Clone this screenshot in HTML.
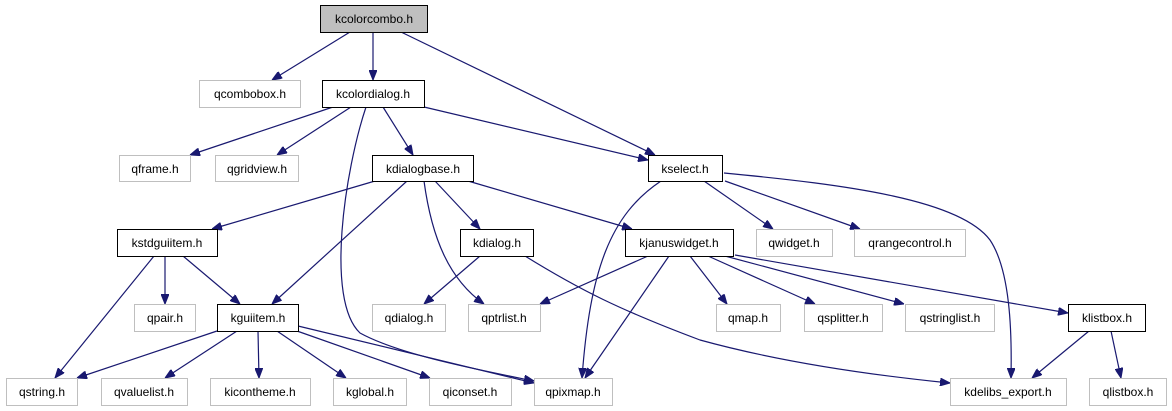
<!DOCTYPE html>
<html><head><meta charset="utf-8"><style>
html,body{margin:0;padding:0;background:#fff;}
svg{display:block;}
text{font-family:"Liberation Sans",Arial,sans-serif;font-size:12px;fill:#000;text-anchor:middle;}
.e path{fill:none;stroke:#191970;stroke-width:1.2;}
</style></head><body>
<svg width="1172" height="411" viewBox="0 0 1172 411" xmlns="http://www.w3.org/2000/svg">
<defs><marker id="a" viewBox="0 0 10 8" refX="10" refY="4" markerWidth="10" markerHeight="8" markerUnits="userSpaceOnUse" orient="auto"><path d="M0,0L10,4L0,8z" fill="#191970" stroke="#191970"/></marker></defs>
<g class="e" marker-end="url(#a)">
<path d="M350,32L272,80"/>
<path d="M373,32L373,80"/>
<path d="M401,32L655,155"/>
<path d="M333,107L190,155"/>
<path d="M351,107L277,155"/>
<path d="M383,107L413,155"/>
<path d="M424,107L648,160"/>
<path d="M366,107C345,170 325,300 360,333C400,355 480,370 534,381"/>
<path d="M375,181L212,229"/>
<path d="M407,181L272,304"/>
<path d="M424,181C432,240 450,280 484,304"/>
<path d="M435,181L480,229"/>
<path d="M468,181L632,229"/>
<path d="M704,181L773,229"/>
<path d="M725,181L860,229"/>
<path d="M661,181C610,215 590,270 582,378"/>
<path d="M724,173C850,185 960,200 990,240C1010,270 1012,330 1011,378"/>
<path d="M648,256L540,304"/>
<path d="M669,256L585,378"/>
<path d="M690,256L727,304"/>
<path d="M708,256L815,304"/>
<path d="M725,256L904,304"/>
<path d="M735,255L1068,313"/>
<path d="M1089,331L1032,378"/>
<path d="M1111,331L1121,378"/>
<path d="M525,256C580,290 620,310 700,340C780,362 870,375 950,383"/>
<path d="M480,256L424,304"/>
<path d="M154,256L55,378"/>
<path d="M165,256L165,304"/>
<path d="M183,256L240,304"/>
<path d="M217,331L77,378"/>
<path d="M237,331L165,378"/>
<path d="M258,331L259,378"/>
<path d="M277,331L346,378"/>
<path d="M297,331L430,378"/>
<path d="M298,326L534,383"/>
</g>
<g>
<rect x="320.5" y="5.5" width="107" height="27" fill="#bfbfbf" stroke="#000"/><text x="374" y="23">kcolorcombo.h</text>
<rect x="199.5" y="80.5" width="101" height="27" fill="#fff" stroke="#bfbfbf"/><text x="250" y="98">qcombobox.h</text>
<rect x="322.5" y="80.5" width="102" height="27" fill="#fff" stroke="#000"/><text x="373" y="98">kcolordialog.h</text>
<rect x="119.5" y="155.5" width="71" height="26" fill="#fff" stroke="#bfbfbf"/><text x="155" y="173">qframe.h</text>
<rect x="215.5" y="155.5" width="83" height="26" fill="#fff" stroke="#bfbfbf"/><text x="257" y="173">qgridview.h</text>
<rect x="372.5" y="155.5" width="101" height="26" fill="#fff" stroke="#000"/><text x="423" y="173">kdialogbase.h</text>
<rect x="648.5" y="155.5" width="74" height="26" fill="#fff" stroke="#000"/><text x="685" y="173">kselect.h</text>
<rect x="117.5" y="229.5" width="100" height="27" fill="#fff" stroke="#000"/><text x="167" y="247">kstdguiitem.h</text>
<rect x="460.5" y="229.5" width="73" height="27" fill="#fff" stroke="#000"/><text x="497" y="247">kdialog.h</text>
<rect x="625.5" y="229.5" width="108" height="27" fill="#fff" stroke="#000"/><text x="679" y="247">kjanuswidget.h</text>
<rect x="756.5" y="229.5" width="76" height="27" fill="#fff" stroke="#bfbfbf"/><text x="794" y="247">qwidget.h</text>
<rect x="854.5" y="229.5" width="111" height="27" fill="#fff" stroke="#bfbfbf"/><text x="910" y="247">qrangecontrol.h</text>
<rect x="134.5" y="304.5" width="61" height="27" fill="#fff" stroke="#bfbfbf"/><text x="165" y="322">qpair.h</text>
<rect x="217.5" y="304.5" width="81" height="27" fill="#fff" stroke="#000"/><text x="258" y="322">kguiitem.h</text>
<rect x="372.5" y="304.5" width="73" height="27" fill="#fff" stroke="#bfbfbf"/><text x="409" y="322">qdialog.h</text>
<rect x="468.5" y="304.5" width="72" height="27" fill="#fff" stroke="#bfbfbf"/><text x="504" y="322">qptrlist.h</text>
<rect x="716.5" y="304.5" width="64" height="27" fill="#fff" stroke="#bfbfbf"/><text x="748" y="322">qmap.h</text>
<rect x="804.5" y="304.5" width="78" height="27" fill="#fff" stroke="#bfbfbf"/><text x="843" y="322">qsplitter.h</text>
<rect x="905.5" y="304.5" width="89" height="27" fill="#fff" stroke="#bfbfbf"/><text x="950" y="322">qstringlist.h</text>
<rect x="1068.5" y="304.5" width="77" height="27" fill="#fff" stroke="#000"/><text x="1107" y="322">klistbox.h</text>
<rect x="6.5" y="378.5" width="71" height="27" fill="#fff" stroke="#bfbfbf"/><text x="42" y="396">qstring.h</text>
<rect x="101.5" y="378.5" width="86" height="27" fill="#fff" stroke="#bfbfbf"/><text x="144" y="396">qvaluelist.h</text>
<rect x="210.5" y="378.5" width="100" height="27" fill="#fff" stroke="#bfbfbf"/><text x="260" y="396">kicontheme.h</text>
<rect x="333.5" y="378.5" width="73" height="27" fill="#fff" stroke="#bfbfbf"/><text x="370" y="396">kglobal.h</text>
<rect x="429.5" y="378.5" width="82" height="27" fill="#fff" stroke="#bfbfbf"/><text x="470" y="396">qiconset.h</text>
<rect x="534.5" y="378.5" width="78" height="27" fill="#fff" stroke="#bfbfbf"/><text x="573" y="396">qpixmap.h</text>
<rect x="950.5" y="378.5" width="116" height="27" fill="#fff" stroke="#bfbfbf"/><text x="1008" y="396">kdelibs_export.h</text>
<rect x="1089.5" y="378.5" width="77" height="27" fill="#fff" stroke="#bfbfbf"/><text x="1128" y="396">qlistbox.h</text>
</g>
</svg>
</body></html>
